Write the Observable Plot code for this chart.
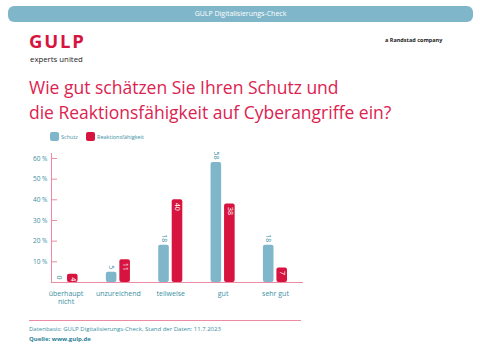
<!DOCTYPE html>
<html><head><meta charset="utf-8">
<script src="https://cdn.jsdelivr.net/npm/d3@7"></script>
<script src="https://cdn.jsdelivr.net/npm/@observablehq/plot@0.6"></script>
<style>
html,body{margin:0;padding:0;background:#fff;}
body{width:480px;height:360px;position:relative;overflow:hidden;font-family:"Open Sans",sans-serif;}
.abs{position:absolute;white-space:nowrap;}
#bar{left:8px;top:6px;width:465px;height:16px;border-radius:6px;background:#80b6c9;color:#fff;font-size:7px;line-height:16px;text-align:center;}
#logo{left:29px;top:32px;font-size:18.5px;font-weight:700;color:#d7143f;line-height:17px;letter-spacing:1.8px;}
#sub{left:30px;top:55px;font-size:7.8px;color:#222;line-height:8px;}
#rand{left:385px;top:36px;font-size:5.5px;font-weight:700;color:#222;line-height:8px;}
#title{left:29px;top:75px;font-size:17.5px;color:#dc2350;line-height:24.5px;font-weight:400;}
.sw{position:absolute;width:9px;height:9px;border-radius:2px;top:132px;}
.lg{font-size:5.5px;color:#3a8fa4;top:133px;line-height:8px;}
#chart{left:0;top:143px;}
#fline{left:29px;top:320px;width:272px;height:1px;background:#ec8ba3;}
#src1{left:29px;top:325px;font-size:6px;color:#3a8fa4;line-height:9px;}
#src2{left:29px;top:335px;font-size:6px;font-weight:700;color:#2a7f96;line-height:9px;}
</style></head>
<body>
<div id="bar" class="abs">GULP Digitalisierungs-Check</div>
<div id="logo" class="abs">GULP</div>
<div id="sub" class="abs">experts united</div>
<div id="rand" class="abs">a Randstad company</div>
<div id="title" class="abs">Wie gut schätzen Sie Ihren Schutz und<br>die Reaktionsfähigkeit auf Cyberangriffe ein?</div>
<div class="sw" style="left:50px;background:#80b6c9"></div>
<div class="abs lg" style="left:61px">Schutz</div>
<div class="sw" style="left:86px;background:#d7143f"></div>
<div class="abs lg" style="left:97px">Reaktionsfähigkeit</div>
<div id="chart" class="abs"></div>
<div id="fline" class="abs"></div>
<div id="src1" class="abs">Datenbasis: GULP Digitalisierungs-Check, Stand der Daten: 11.7.2023</div>
<div id="src2" class="abs">Quelle: www.gulp.de</div>
<script>
const categories = ["überhaupt nicht", "unzureichend", "teilweise", "gut", "sehr gut"];
const schutz = [0, 5, 18, 58, 18];
const reaktion = [4, 11, 40, 38, 7];
const yTicks = [10, 20, 30, 40, 50, 60];

const blue = "#80b6c9", red = "#d7143f", teal = "#3a8fa4", pink = "#ec8ba3";
const dataS = categories.map((c, i) => ({cat: c, v: schutz[i]}));
const dataR = categories.map((c, i) => ({cat: c, v: reaktion[i]}));

const chart = Plot.plot({
  width: 480,
  height: 168,
  marginLeft: 51,
  marginRight: 177,
  marginTop: 10,
  marginBottom: 29,
  style: {fontFamily: "Open Sans", background: "transparent"},
  x: {domain: categories, range: [53.5, 287], paddingInner: 0.54, paddingOuter: 0, round: false, axis: null, label: null},
  y: {domain: [0, 62.4], axis: null, label: null},
  marks: [
    Plot.barY(dataS, {x: "cat", y: "v", fill: blue, insetRight: 13.5, rx: 2}),
    Plot.barY(dataR, {x: "cat", y: "v", fill: red, insetLeft: 13.5, rx: 2}),
    Plot.text(dataS, {x: "cat", y: "v", text: d => String(d.v), rotate: 90, textAnchor: "end", dy: -3, dx: -6.8, fill: teal, fontSize: 7}),
    Plot.text(dataR, {x: "cat", y: "v", text: d => String(d.v), rotate: 90, textAnchor: "start", dy: 3, dx: 6.8, fill: "#fff", fontSize: 7}),
    Plot.frame({anchor: "left", stroke: pink}),
    Plot.ruleY([0], {stroke: pink}),
    Plot.axisY({ticks: yTicks, tickSize: -6, stroke: pink, label: null, tickFormat: d => d + " %", tickPadding: 10, fill: teal, fontSize: 6.5}),
    Plot.axisX({tickSize: 0, tickPadding: 8, label: null, fill: teal, fontSize: 7, lineHeight: 1.15, tickFormat: d => d === "überhaupt nicht" ? "überhaupt\nnicht" : d})
  ]
});
document.getElementById("chart").appendChild(chart);
</script>
</body></html>
